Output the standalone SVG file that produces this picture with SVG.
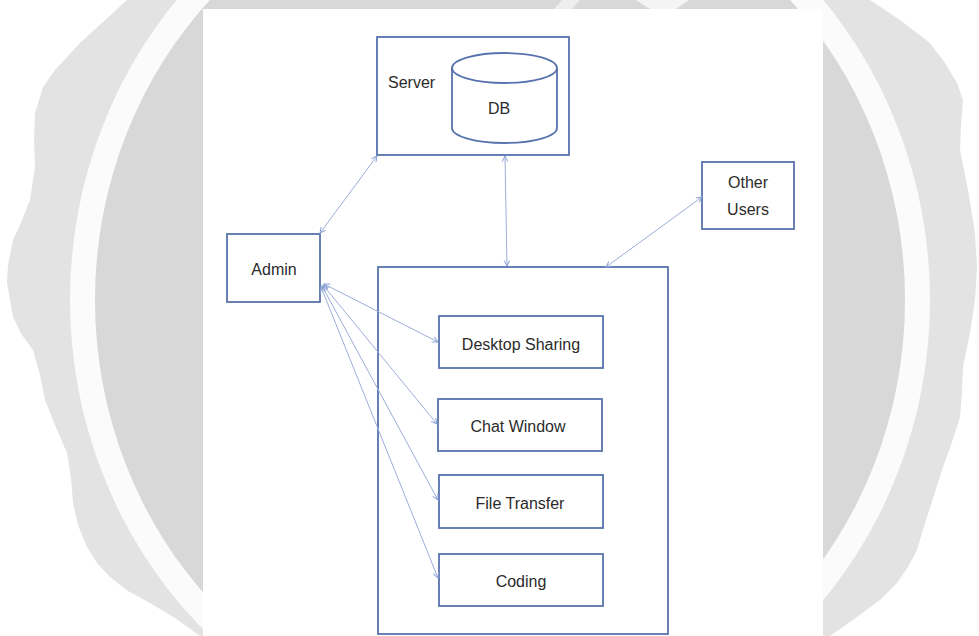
<svg xmlns="http://www.w3.org/2000/svg" width="979" height="636" viewBox="0 0 979 636">
<style>
.box{fill:#ffffff;stroke:#5873ad;stroke-width:1.8}
.t{font-family:"Liberation Sans",Arial,sans-serif;font-size:16px;fill:#2b2b2b}
.c{text-anchor:middle}
.ln{stroke:#9badd8;stroke-width:1;fill:none;marker-start:url(#ah);marker-end:url(#ah)}
</style>
<defs>
<marker id="ah" viewBox="0 0 10 10" refX="9" refY="5" markerWidth="7" markerHeight="7" markerUnits="userSpaceOnUse" orient="auto-start-reverse">
<path d="M1,1 L9,5 L1,9" fill="none" stroke="#8a9fd4" stroke-width="1.4"/>
</marker>
</defs>
<rect width="979" height="636" fill="#ffffff"/>
<g id="watermark">
<path d="M127,0 L80,43 L55,70 L43,87 L35,113 L34,140 L35,167 L30,200 L20,225 L13,240 L8,265 L7,283 L10,300 L13,317 L22,335 L33,350 L40,375 L45,400 L55,425 L67,453 L71,478 L73,503 L78,525 L87,547 L97,563 L110,577 L128,591 L150,603 L175,618 L200,636 L830,636 L857,617 L880,600 L897,583 L908,567 L917,550 L922,533 L927,517 L935,492 L943,467 L952,442 L960,417 L962,392 L963,367 L970,333 L975,300 L977,267 L975,233 L968,190 L960,150 L961,125 L963,100 L957,83 L945,63 L930,43 L900,20 L870,0 Z" fill="#e3e3e3"/>
<ellipse cx="500" cy="300" rx="430" ry="455" fill="#fbfbfb"/>
<ellipse cx="500" cy="300" rx="405" ry="430" fill="#d8d8d8"/>
<polygon points="562,0 580,0 572,9 554,9" fill="#eeeeee"/>
<polygon points="636,0 689,0 676,9 650,9" fill="#f4f4f4"/>
<rect x="203" y="9" width="620" height="627" fill="#ffffff"/>
</g>
<g id="server">
<rect class="box" x="377" y="37" width="192" height="118"/>
<text class="t" x="388" y="88">Server</text>
</g>
<g id="db">
<path d="M452,68 L452,128 A52.5,15 0 0 0 557,128 L557,68" fill="#ffffff" stroke="#5873ad" stroke-width="1.8"/>
<ellipse cx="504.5" cy="68" rx="52.5" ry="15" fill="#ffffff" stroke="#5873ad" stroke-width="1.8"/>
<text class="t c" x="499" y="114">DB</text>
</g>
<g id="admin">
<rect class="box" x="227" y="234" width="93" height="68"/>
<text class="t c" x="274" y="275">Admin</text>
</g>
<g id="other-users">
<rect class="box" x="702" y="162" width="92" height="67"/>
<text class="t c" x="748" y="188">Other</text>
<text class="t c" x="748" y="215">Users</text>
</g>
<g id="client">
<rect class="box" x="378" y="267" width="290" height="367"/>
</g>
<g id="desktop-sharing">
<rect class="box" x="439" y="316" width="164" height="52"/>
<text class="t c" x="521" y="350">Desktop Sharing</text>
</g>
<g id="chat-window">
<rect class="box" x="438" y="399" width="164" height="52"/>
<text class="t c" x="518" y="432">Chat Window</text>
</g>
<g id="file-transfer">
<rect class="box" x="439" y="475" width="164" height="53"/>
<text class="t c" x="520" y="509">File Transfer</text>
</g>
<g id="coding">
<rect class="box" x="439" y="554" width="164" height="52"/>
<text class="t c" x="521" y="587">Coding</text>
</g>
<g id="connectors">
<line class="ln" x1="320" y1="233" x2="377" y2="156"/>
<line class="ln" x1="505" y1="156" x2="507" y2="266"/>
<line class="ln" x1="702" y1="197" x2="606" y2="267"/>
<line class="ln" x1="324" y1="284" x2="438" y2="342"/>
<line class="ln" x1="323" y1="285" x2="437" y2="424"/>
<line class="ln" x1="322" y1="286" x2="438" y2="500"/>
<line class="ln" x1="321" y1="287" x2="438" y2="578"/>
</g>
</svg>
